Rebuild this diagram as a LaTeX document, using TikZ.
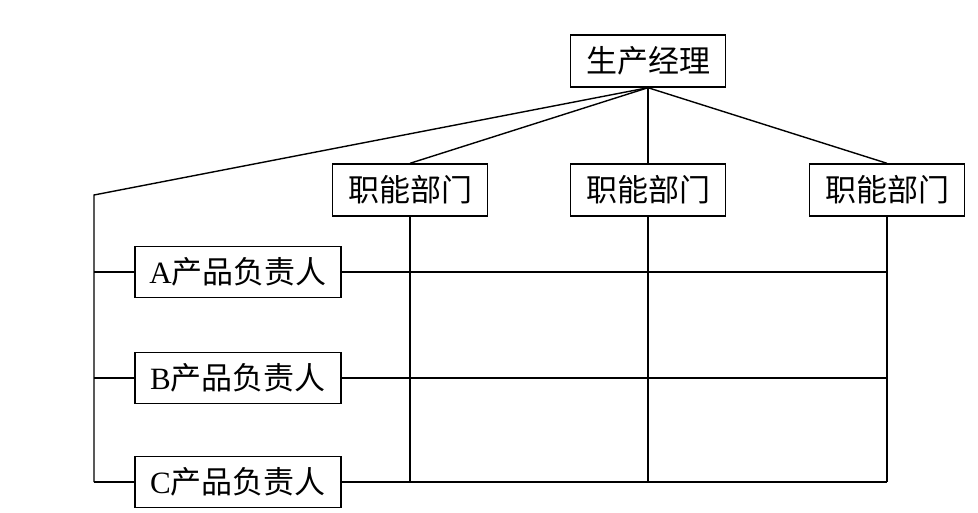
\documentclass[tikz,border=0pt]{standalone}
\usepackage{fontspec}
\setmainfont{Liberation Serif}
\newfontfamily\cjk{Noto Sans CJK SC}
\usepackage{tikz}
\usetikzlibrary{positioning}
\tikzstyle{unit}=[draw,line width=1.4pt,fill=white,inner sep=0pt,minimum height=52pt,font=\fontsize{31}{33}\selectfont]
\tikzstyle{link}=[draw,line width=1.4pt]

\begin{document}
\begin{tikzpicture}[x=1pt,y=-1pt]

    \useasboundingbox (0,0) rectangle (978,512);

    \node[unit, minimum width=155pt] (M) at (648,61) {\cjk 生产经理};

    \foreach \x/\i in {410/1, 648/2, 887/3}
        \node[unit, minimum width=155pt] (F\i) at (\x,190) {\cjk 职能部门};

    \foreach \y/\i/\letter in {272/1/A, 378/2/B, 482/3/C}
        \node[unit, minimum width=206pt, minimum height=51pt] (P\i) at (238,\y) {\letter\cjk 产品负责人};

    \coordinate (K) at (94,195);
    \coordinate (L) at (94,482);

    \path[link] (M.south) -- (K) -- (L);
    \foreach \i in {1,2,3}
        \path[link] (M.south) -- (F\i.north);
    \foreach \i in {1,2,3}
        \path[link] (P\i.west -| K) -- (P\i.west);
    \foreach \i in {1,2,3}
        \path[link] (P\i.east) -- (P\i.east -| F3);
    \foreach \i in {1,2,3}
        \path[link] (F\i.south) -- (F\i.south |- P3);

\end{tikzpicture}
\end{document}
